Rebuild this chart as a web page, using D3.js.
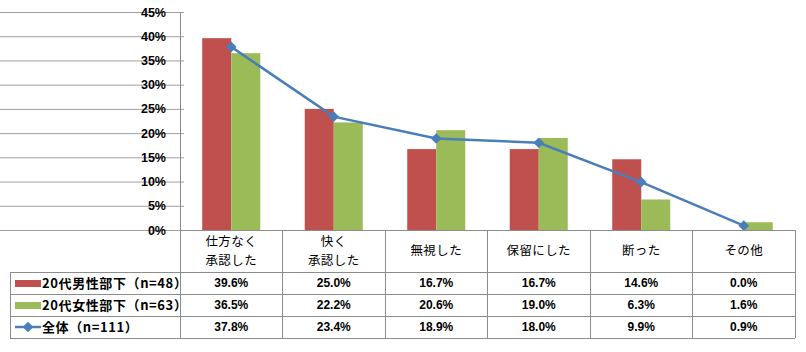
<!DOCTYPE html>
<html>
<head>
<meta charset="utf-8">
<script src="https://cdn.jsdelivr.net/npm/d3@7"></script>
<style>
  body { margin: 0; background: #fff; }
  text { font-family: "Liberation Sans", Arial, "Noto Sans CJK JP", sans-serif; fill: #000; }
  .jp { font-family: "Noto Sans CJK JP", sans-serif; }
</style>
</head>
<body>
<div id="chart"></div>
<script>
let categories = ["仕方なく\n承認した", "快く\n承認した", "無視した", "保留にした", "断った", "その他"];
let seriesNames = ["20代男性部下（n=48）", "20代女性部下（n=63）", "全体（n=111）"];
let maleValues = [39.6, 25.0, 16.7, 16.7, 14.6, 0.0];
let femaleValues = [36.5, 22.2, 20.6, 19.0, 6.3, 1.6];
let totalValues = [37.8, 23.4, 18.9, 18.0, 9.9, 0.9];
let yTicks = [0, 5, 10, 15, 20, 25, 30, 35, 40, 45];

let colors = ["#c0504d", "#9bbb59", "#4a7ebb"];

let W = 806, H = 352;
let plot = { left: 180, right: 795, top: 12, bottom: 230 };
let tableLeft = 10, headerBottom = 272, rowH = 22;

let svg = d3.select("#chart").append("svg").attr("width", W).attr("height", H);

let xScale = d3.scaleBand().domain(d3.range(categories.length)).range([plot.left, plot.right]);
let bw = xScale.bandwidth();
let x1 = d3.scaleBand().domain([0, 1]).range([bw * 0.217, bw * 0.783]);
let yScale = d3.scaleLinear().domain([0, 45]).range([plot.bottom, plot.top]);

// gridlines
svg.append("g")
  .attr("transform", "translate(" + plot.left + ",0)")
  .call(d3.axisLeft(yScale).tickValues(yTicks).tickSize(-(plot.right - plot.left)).tickFormat(""))
  .call(g => g.select(".domain").remove())
  .call(g => g.selectAll("line").attr("stroke", "#a0a0a0").attr("x1", 4).attr("x2", -(plot.right - plot.left)));

// y axis
let yAxisEl = svg.append("g")
  .attr("transform", "translate(" + plot.left + ",0)")
  .call(d3.axisLeft(yScale).tickValues(yTicks).tickSize(0).tickPadding(14).tickFormat(d => d + "%"));
yAxisEl.select(".domain").attr("stroke", "#888");
yAxisEl.selectAll("text").style("font-size", "12.5px").style("font-weight", "bold")
  .style("font-family", "'Liberation Sans', Arial, sans-serif");

// bars
let barSeries = [maleValues, femaleValues];
barSeries.forEach((vals, si) => {
  svg.append("g").selectAll("rect").data(vals).join("rect")
    .attr("x", (d, i) => xScale(i) + x1(si))
    .attr("width", x1.bandwidth())
    .attr("y", d => yScale(d))
    .attr("height", d => yScale(0) - yScale(d))
    .attr("fill", colors[si]);
});

// line
let line = d3.line().x((d, i) => xScale(i) + bw / 2).y(d => yScale(d));
svg.append("path").datum(totalValues)
  .attr("d", line).attr("fill", "none")
  .attr("stroke", colors[2]).attr("stroke-width", 2.5);

let diamond = d3.symbol().type(d3.symbolDiamond2).size(72);
svg.append("g").selectAll("path").data(totalValues).join("path")
  .attr("d", diamond)
  .attr("transform", (d, i) => "translate(" + (xScale(i) + bw / 2) + "," + yScale(d) + ")")
  .attr("fill", colors[2]);

// data table
let tableBottom = headerBottom + rowH * 3;
let grid = svg.append("g").attr("stroke", "#8c8c8c").attr("stroke-width", 1).attr("shape-rendering", "crispEdges");
grid.append("line").attr("x1", plot.left).attr("x2", plot.right).attr("y1", plot.bottom).attr("y2", plot.bottom);
d3.range(categories.length + 1).forEach(i => {
  let x = i < categories.length ? xScale(i) : plot.right;
  grid.append("line").attr("x1", x).attr("x2", x).attr("y1", plot.bottom).attr("y2", tableBottom);
});
d3.range(4).forEach(r => {
  let y = headerBottom + r * rowH;
  grid.append("line").attr("x1", tableLeft).attr("x2", plot.right).attr("y1", y).attr("y2", y);
});
grid.append("line").attr("x1", tableLeft).attr("x2", tableLeft).attr("y1", headerBottom).attr("y2", tableBottom);

// category labels
categories.forEach((c, i) => {
  let lines = c.split("\n");
  let cy = (plot.bottom + headerBottom) / 2;
  let t = svg.append("text").attr("class", "jp")
    .attr("text-anchor", "middle")
    .attr("x", xScale(i) + bw / 2)
    .style("font-size", "12.5px")
    .style("letter-spacing", "0.4px");
  lines.forEach((l, k) => {
    t.append("tspan").attr("x", xScale(i) + bw / 2)
      .attr("y", cy + (k - (lines.length - 1) / 2) * 19)
      .attr("dy", "0.35em").text(l);
  });
});

// rows
let rowValues = [maleValues, femaleValues, totalValues];
rowValues.forEach((vals, r) => {
  let cy = headerBottom + r * rowH + rowH / 2;
  svg.append("g").selectAll("text").data(vals).join("text")
    .attr("x", (d, i) => xScale(i) + bw / 2)
    .attr("y", cy).attr("dy", "0.35em")
    .attr("text-anchor", "middle")
    .style("font-size", "12px").style("font-weight", "bold")
    .text(d => d.toFixed(1) + "%");

  // legend key
  if (r < 2) {
    svg.append("rect").attr("x", 15).attr("y", cy - 3).attr("width", 26).attr("height", 7).attr("fill", colors[r]);
  } else {
    svg.append("line").attr("x1", 15).attr("x2", 41).attr("y1", cy).attr("y2", cy)
      .attr("stroke", colors[2]).attr("stroke-width", 2.5);
    svg.append("path").attr("d", diamond).attr("transform", "translate(28," + cy + ")").attr("fill", colors[2]);
  }
  svg.append("text").attr("class", "jp")
    .attr("x", 42).attr("y", cy).attr("dy", "0.35em")
    .style("font-size", "13px").style("font-weight", "bold")
    .style("letter-spacing", "0.6px")
    .text(seriesNames[r]);
});
</script>
</body>
</html>
